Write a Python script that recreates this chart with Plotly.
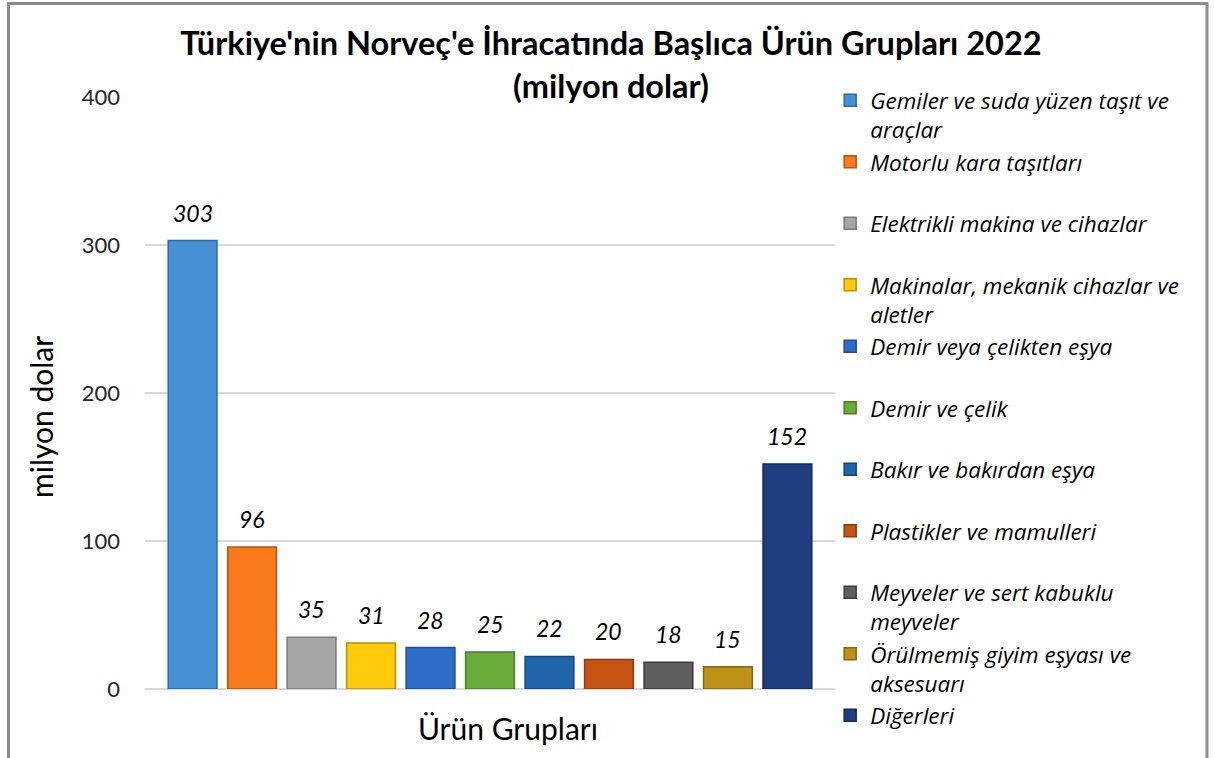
import plotly.graph_objects as go

title_text = "Türkiye'nin Norveç'e İhracatında Başlıca Ürün Grupları 2022<br>(milyon dolar)"
x_title = "Ürün Grupları"
y_title = "milyon dolar"
categories = [
    "Gemiler ve suda yüzen taşıt ve araçlar",
    "Motorlu kara taşıtları",
    "Elektrikli makina ve cihazlar",
    "Makinalar, mekanik cihazlar ve aletler",
    "Demir veya çelikten eşya",
    "Demir ve çelik",
    "Bakır ve bakırdan eşya",
    "Plastikler ve mamulleri",
    "Meyveler ve sert kabuklu meyveler",
    "Örülmemiş giyim eşyası ve aksesuarı",
    "Diğerleri",
]
legend_labels = [
    "Gemiler ve suda yüzen taşıt ve<br>araçlar",
    "Motorlu kara taşıtları<br> ",
    "Elektrikli makina ve cihazlar<br> ",
    "Makinalar, mekanik cihazlar ve<br>aletler",
    "Demir veya çelikten eşya<br> ",
    "Demir ve çelik<br> ",
    "Bakır ve bakırdan eşya<br> ",
    "Plastikler ve mamulleri<br> ",
    "Meyveler ve sert kabuklu<br>meyveler",
    "Örülmemiş giyim eşyası ve<br>aksesuarı",
    "Diğerleri",
]
values = [303, 96, 35, 31, 28, 25, 22, 20, 18, 15, 152]
colors = ["#4690d6", "#f97a1c", "#a5a5a5", "#ffcb0a", "#2e6cc9", "#68ad3a",
          "#2064ac", "#c75412", "#5f5f5f", "#bd9116", "#1f3e82"]
edge_colors = ["#2f6aa6", "#b5560f", "#7a7a7a", "#b88f00", "#1f4d96", "#4a7e27",
               "#15467a", "#8c3a0b", "#3d3d3d", "#86670c", "#142a5a"]
y_ticks = [0, 100, 200, 300, 400]

FONT = "Lato"
LEGEND_FONT = "Open Sans"

fig = go.Figure()
for i, (lab, v, c, ec) in enumerate(zip(legend_labels, values, colors, edge_colors)):
    fig.add_trace(go.Bar(
        x=[i], y=[v], name=lab, width=0.82,
        marker=dict(color=c, line=dict(color=ec, width=1.5)),
        legendgroup=str(i),
        hovertext=categories[i],
    ))
    fig.add_annotation(
        x=i, y=v, text=str(v), showarrow=False, yanchor="bottom", yshift=12,
        font=dict(family=FONT, size=23, color="#000000", style="italic"),
    )

W, H = 1215, 758
L, R, T, B = 145, 380, 97, 69
pw, ph = W - L - R, H - T - B
def px_x(x):
    return (x - L) / pw
def px_y(y):
    return (H - B - y) / ph

# axis titles placed where the original chart has them
fig.add_annotation(xref="paper", yref="paper", x=px_x(41), y=px_y(417),
                   text=y_title, textangle=-90, showarrow=False,
                   xanchor="center", yanchor="middle",
                   font=dict(family=FONT, size=30, color="#000000"))
fig.add_annotation(xref="paper", yref="paper", x=px_x(508), y=px_y(728),
                   text=x_title, showarrow=False,
                   xanchor="center", yanchor="middle",
                   font=dict(family=FONT, size=30, color="#000000"))

fig.add_shape(type="rect", xref="paper", yref="paper",
              x0=px_x(8.5), x1=px_x(1207), y0=px_y(790), y1=px_y(3.5),
              line=dict(color="#8c8c8c", width=3), fillcolor="rgba(0,0,0,0)",
              layer="below")

fig.update_layout(
    width=W, height=H,
    margin=dict(l=L, r=R, t=T, b=B),
    paper_bgcolor="white", plot_bgcolor="white",
    font=dict(family=FONT, color="#000000"),
    title=dict(text=title_text, x=611 / W, xanchor="center", y=0.927, yanchor="top",
               font=dict(family=FONT, size=32.5, weight="bold", color="#000000")),
    barmode="overlay",
    showlegend=True,
    legend=dict(x=0.993, xanchor="left", y=1.03, yanchor="top",
                font=dict(family=LEGEND_FONT, size=22.5, style="italic", color="#000000"),
                traceorder="grouped", tracegroupgap=0, valign="top",
                bgcolor="rgba(0,0,0,0)", itemwidth=30, maxheight=720),
    xaxis=dict(range=[-0.8, 10.8], showticklabels=False, showgrid=False,
               zeroline=False, showline=False, ticks=""),
    yaxis=dict(range=[0, 400], tickvals=y_ticks, showgrid=True, gridcolor="#d9d9d9",
               gridwidth=1.5, zeroline=True, zerolinecolor="#d9d9d9", zerolinewidth=1.5,
               showline=False, ticklabelstandoff=24,
               tickfont=dict(family=FONT, size=22, color="#262626")),
)

fig.write_html("out.html", config={"displayModeBar": False},
               post_script="document.body.style.margin='0px';")
